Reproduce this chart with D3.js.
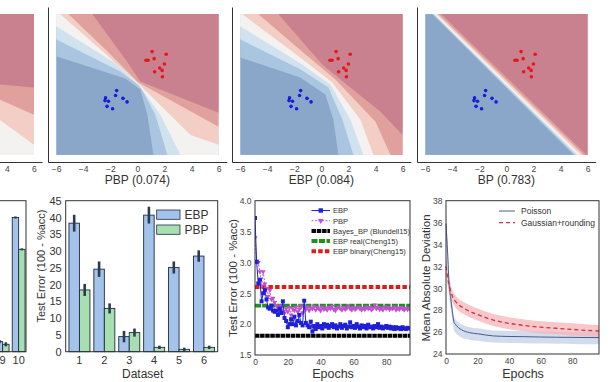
<!DOCTYPE html>
<html><head><meta charset="utf-8">
<script src="https://cdn.jsdelivr.net/npm/d3@7"></script>
<style>
body{margin:0;background:#fff}
svg{display:block}
text{font-family:"Liberation Sans",Arial,sans-serif}
</style>
</head><body>
<svg id="c" width="610" height="382"></svg>
<script>
// ================= DATA =================
// Top row: two-class toy data (same points in every panel)
const redPts  = [[1.09,2.8],[2.13,2.57],[0.64,2.06],[0.79,2.06],[1.24,2.2],[2.0,1.74],[1.65,1.4],[1.83,1.2],[1.28,1.09],[1.85,0.66]];
const bluePts = [[-1.53,-0.52],[-1.61,-0.94],[-2.35,-1.14],[-2.39,-1.37],[-2.13,-1.43],[-1.06,-1.18],[-0.76,-1.48],[-2.24,-1.86],[-1.83,-2.06]];
const topTicks = [-6,-4,-2,0,2,4,6];
const topLabels = ["", "PBP (0.074)", "EBP (0.084)", "BP (0.783)"];
// predictive-probability contour boundaries (level k -> k+1), in data coords
const boundsP0 = [
  [[-6,-3],[6,-14]],
  [[-6,-2],[6,-13]],
  [[-6,-1],[6,-12]],
  [[-6,5.05],[6,-5.14]],
  [[-6,3.54],[6,-2.57]],
  [[-6,0.98],[6,-0.26]]
];
const boundsPBP = [
  [[-6,2.4],[-0.89,0.51],[0.22,-0.43],[0.74,-2.57],[1.19,-6]],
  [[-6,3.86],[-1.26,1.11],[0.22,-0.17],[1.33,-2.57],[2.22,-6]],
  [[-6,4.97],[-1.63,1.8],[0.07,0],[1.7,-2.57],[3.19,-6]],
  [[-5.7,6],[-2.74,3],[0.07,0.09],[3.93,-4.29],[6,-5.14]],
  [[-5.1,6],[-2.37,3],[0.07,0.17],[6,-3.6]],
  [[-3.33,6],[-0.89,2.14],[0.22,0.26],[6,-2.4]]
];
const boundsEBP = [
  [[-6,2.31],[-1.56,0.6],[0.3,-0.86],[0.89,-3],[1.26,-6]],
  [[-6,3.86],[-1.56,1.29],[0.52,-0.26],[1.56,-3],[2.37,-6]],
  [[-6,4.97],[-1.56,1.8],[0.67,0],[2.15,-3],[3.11,-6]],
  [[-5.85,6],[-1.56,2.31],[0.81,0.17],[2.89,-3],[3.85,-6]],
  [[-4.67,6],[-1.19,2.57],[1.04,0.43],[4.0,-3.17],[5.11,-6]],
  [[-3.19,6],[0.07,1.71],[1.41,0.43],[4.37,-2.31],[6,-4.29]]
];
const boundsBP = [
  [[-5.48,6],[4.97,-6]],
  [[-5.41,6],[5.12,-6]],
  [[-5.34,6],[5.27,-6]],
  [[-5.19,6],[5.49,-6]],
  [[-5.04,6],[5.71,-6]],
  [[-4.82,6],[5.93,-6]]
];

// Bottom panel A (cut off, only datasets 9 and 10 visible)
const datasetsA = ["1","2","3","4","5","6","7","8","9","10"];
const shownA = ["9","10"];
const ebpA = [3.0, 40.0];
const ebpAErr = [0.5, 0.3];
const pbpA = [2.2, 30.5];
const pbpAErr = [0.6, 0.3];

// Bottom panel B
const datasetsB = ["1","2","3","4","5","6"];
const ebpB = [38.3, 24.6, 4.5, 40.7, 25.1, 28.5];
const ebpBErr = [2.5, 2.3, 1.7, 2.5, 1.8, 1.7];
const pbpB = [18.4, 12.9, 5.7, 1.3, 0.7, 1.3];
const pbpBErr = [1.8, 1.5, 1.2, 0.5, 0.5, 0.5];
const yTicksB = [0,5,10,15,20,25,30,35,40,45];

// Bottom panel C (test error vs epochs)
const ebpC = [3.72,3.01,2.66,2.72,2.37,2.50,2.55,2.40,2.27,2.25,
  2.30,2.22,2.20,2.22,2.15,2.25,2.18,2.37,2.10,2.05,
  1.95,2.00,2.08,2.00,2.12,1.98,2.05,2.15,2.02,1.98,
  2.38,2.02,1.98,1.95,2.04,1.88,1.97,1.92,2.00,1.95,
  1.97,1.93,2.00,1.96,1.99,1.94,1.97,2.00,1.95,1.98,
  1.93,1.96,2.00,1.94,1.97,1.99,1.93,1.96,2.03,1.95,
  1.97,1.94,2.00,1.96,1.93,1.98,1.95,1.97,1.93,1.99,
  1.95,1.96,1.93,1.97,1.95,2.00,1.94,1.96,1.93,1.95,
  1.97,1.94,1.96,1.93,1.95,1.92,1.95,1.93,1.94,1.92,
  1.95,1.93,1.92,1.94,1.93];
const pbpC = [3.40,3.02,3.00,2.85,2.62,2.85,2.65,2.58,2.45,2.55,
  2.40,2.42,2.35,2.30,2.28,2.22,2.30,2.20,2.18,2.25,
  2.20,2.27,2.15,2.25,2.22,2.28,2.20,2.24,2.30,2.18,2.27,
  2.24,2.28,2.22,2.26,2.25,2.29,2.23,2.27,
  2.25,2.22,2.28,2.24,2.26,2.23,2.27,2.25,
  2.29,2.24,2.22,2.26,2.28,2.25,2.23,2.27,
  2.24,2.26,2.30,2.25,2.23,2.27,2.24,2.26,
  2.28,2.25,2.23,2.26,2.24,2.28,2.25,2.27,
  2.23,2.26,2.31,2.25,2.27,2.24,2.26,2.23,
  2.28,2.25,2.27,2.24,2.26,2.25,2.28,2.23,
  2.26,2.24,2.27,2.25,2.23,2.26,2.24,2.25];
const bayesBP = 1.81;
const ebpReal = 2.30;
const ebpBinary = 2.60;
const legendC = ["EBP","PBP","Bayes_BP (Blundell15)","EBP real(Cheng15)","EBP binary(Cheng15)"];
const yTicksC = [1.5,2.0,2.5,3.0,3.5,4.0];
const xTicksC = [0,20,40,60,80];

// Bottom panel D (mean absolute deviation vs epochs)
const epochsD   = [0,1,2,3,4,5,6,8,10,15,20,30,40,50,60,70,80,90,97];
const poisson   = [35.9,33.3,30.3,29.1,27.9,26.95,26.7,26.4,26.2,25.95,25.85,25.65,25.6,25.58,25.55,25.53,25.52,25.5,25.5];
const poissonLo = [35.0,32.0,29.2,28.2,27.1,26.2,25.95,25.7,25.5,25.3,25.2,25.05,25.0,24.98,24.95,24.93,24.92,24.9,24.9];
const poissonHi = [36.0,34.3,31.3,30.0,28.7,27.5,27.2,26.9,26.7,26.45,26.35,26.15,26.1,26.08,26.05,26.03,26.02,26.0,26.0];
const gauss     = [32.0,31.0,30.3,29.7,29.3,29.0,28.8,28.5,28.3,27.9,27.6,27.1,26.8,26.6,26.45,26.35,26.25,26.15,26.1];
const gaussLo   = [31.1,30.3,29.7,29.1,28.75,28.45,28.25,27.95,27.75,27.35,27.05,26.55,26.25,26.05,25.9,25.8,25.7,25.6,25.55];
const gaussHi   = [32.9,31.7,30.9,30.3,29.85,29.55,29.35,29.05,28.85,28.45,28.15,27.65,27.35,27.15,27.0,26.9,26.8,26.7,26.65];
const legendD = ["Poisson","Gaussian+rounding"];
const yTicksD = [24,26,28,30,32,34,36,38];
const xTicksD = [0,20,40,60,80];

// ================= DRAWING =================
const W = 610;
const svg = d3.select("#c");
const defs = svg.append("defs");
const FONT = '"Liberation Sans",Arial,sans-serif';
const levelColors = ["#8aa7ca","#a9c5df","#d1e2ef","#f4f1f1","#f3cec4","#e0a19d","#c9808f"];

function regionPoly(b){
  const pts = b.slice();
  const first = pts[0], last = pts[pts.length-1];
  if (last[1] <= -5.99) pts.push([6.5,-6.5]);
  pts.push([6.5,6.5]);
  if (first[0] <= -5.99) pts.push([-6.5,6.5]);
  return pts;
}

const topLefts = [-136.7, 48, 232, 417];
const allBounds = [boundsP0, boundsPBP, boundsEBP, boundsBP];
topLefts.forEach((left,i)=>{
  const x = d3.scaleLinear().domain([-6.6,6.6]).range([left, left+178.7]);
  const y = d3.scaleLinear().domain([-6.6,6.6]).range([162,7]);
  const id = "clipT"+i;
  defs.append("clipPath").attr("id",id).append("rect")
    .attr("x",x(-6)).attr("y",y(6)).attr("width",x(6)-x(-6)).attr("height",y(-6)-y(6));
  const g = svg.append("g");
  const cg = g.append("g").attr("clip-path",`url(#${id})`);
  cg.append("rect").attr("x",x(-6)).attr("y",y(6)).attr("width",x(6)-x(-6)).attr("height",y(-6)-y(6))
    .attr("fill",levelColors[0]);
  const line = d3.line().x(d=>x(d[0])).y(d=>y(d[1]));
  allBounds[i].forEach((b,k)=>{
    cg.append("path").attr("d",line(regionPoly(b))+"Z").attr("fill",levelColors[k+1]);
  });
  cg.selectAll(".rp").data(redPts).join("circle")
    .attr("cx",d=>x(d[0])).attr("cy",d=>y(d[1])).attr("r",1.8).attr("fill","#e8141c");
  cg.selectAll(".bp").data(bluePts).join("circle")
    .attr("cx",d=>x(d[0])).attr("cy",d=>y(d[1])).attr("r",1.8).attr("fill","#1a1ad8");
  const visTicks = topTicks.filter(v=>x(v)>4 && x(v)<W-4);
  const ax = g.append("g").attr("transform","translate(0,162)")
    .call(d3.axisBottom(x).tickValues(visTicks).tickSize(0).tickSizeOuter(0).tickPadding(4));
  ax.select(".domain").attr("stroke","#333");
  ax.selectAll("text").attr("font-size",8.5).attr("fill","#444").attr("font-family",FONT);
  if (left >= 0){
    const ay = g.append("g").attr("transform",`translate(${left},0)`)
      .call(d3.axisLeft(y).tickValues([]).tickSizeOuter(0));
    ay.select(".domain").attr("stroke","#333");
  }
  if (topLabels[i]) g.append("text").attr("x",x(0)).attr("y",184).attr("text-anchor","middle")
    .attr("font-size",12).attr("fill","#333").text(topLabels[i]);
});

// ---- bar panels ----
const cEBP = "#a3c3ea", cPBP = "#a7dfb0", cEdge = "#1e2b45", cErr = "#2d3b4e";
function barPanel(left, right, cats, shown, e, eErr, p, pErr, ticksY, pi, po){
  const top = 200.7, bottom = 351.7;
  const x = d3.scaleBand().domain(cats).range([left,right]).paddingInner(pi).paddingOuter(po);
  const y = d3.scaleLinear().domain([0,45]).range([bottom, top]);
  const g = svg.append("g");
  const bw = x.bandwidth()/2;
  shown.forEach((c,i)=>{
    g.append("rect").attr("x",x(c)).attr("y",y(e[i])).attr("width",bw).attr("height",y(0)-y(e[i]))
      .attr("fill",cEBP).attr("stroke",cEdge).attr("stroke-width",0.9);
    g.append("rect").attr("x",x(c)+bw).attr("y",y(p[i])).attr("width",bw).attr("height",y(0)-y(p[i]))
      .attr("fill",cPBP).attr("stroke",cEdge).attr("stroke-width",0.9);
    g.append("line").attr("x1",x(c)+bw/2).attr("x2",x(c)+bw/2)
      .attr("y1",y(e[i]-eErr[i])).attr("y2",y(e[i]+eErr[i])).attr("stroke",cErr).attr("stroke-width",2.6);
    g.append("line").attr("x1",x(c)+bw*1.5).attr("x2",x(c)+bw*1.5)
      .attr("y1",y(p[i]-pErr[i])).attr("y2",y(p[i]+pErr[i])).attr("stroke",cErr).attr("stroke-width",2.6);
  });
  g.append("rect").attr("x",left).attr("y",top).attr("width",right-left).attr("height",bottom-top)
    .attr("fill","none").attr("stroke","#333").attr("stroke-width",1);
  const ax = g.append("g").attr("transform",`translate(0,${bottom})`)
    .call(d3.axisBottom(x).tickValues(shown).tickSize(0).tickPadding(4.5));
  ax.select(".domain").remove();
  ax.selectAll("text").attr("font-size",11).attr("fill","#333").attr("font-family",FONT);
  if (ticksY){
    const ay = g.append("g").attr("transform",`translate(${left},0)`)
      .call(d3.axisLeft(y).tickValues(ticksY).tickSize(0).tickPadding(4));
    ay.select(".domain").remove();
    ay.selectAll("text").attr("font-size",11).attr("fill","#333").attr("font-family",FONT);
  }
  return {x,y,g};
}
barPanel(-132.7, 26, datasetsA, shownA, ebpA, ebpAErr, pbpA, pbpAErr, null, 0.2, 0.06);
const B = barPanel(65.7, 217.7, datasetsB, datasetsB, ebpB, ebpBErr, pbpB, pbpBErr, yTicksB, 0.157, 0.13);
B.g.append("text").attr("transform","translate(45,266) rotate(-90)").attr("text-anchor","middle")
  .attr("font-size",11).attr("fill","#333").text("Test Error (100 - %acc)");
B.g.append("text").attr("x",142.7).attr("y",378).attr("text-anchor","middle")
  .attr("font-size",12).attr("fill","#333").text("Dataset");
[["EBP",cEBP,210],["PBP",cPBP,225]].forEach(d=>{
  B.g.append("rect").attr("x",156.7).attr("y",d[2]).attr("width",23.3).attr("height",9.3)
    .attr("fill",d[1]).attr("stroke",cEdge).attr("stroke-width",0.8);
  B.g.append("text").attr("x",184.5).attr("y",d[2]+9).attr("font-size",12).attr("fill","#333").text(d[0]);
});

// ---- panel C ----
(function(){
  const left=255, right=410, top=200.7, bottom=355;
  const x = d3.scaleLinear().domain([0,94.5]).range([left,right]);
  const y = d3.scaleLinear().domain([1.5,4.0]).range([bottom,top]);
  const g = svg.append("g");
  defs.append("clipPath").attr("id","clipC").append("rect").attr("x",left).attr("y",top).attr("width",right-left).attr("height",bottom-top);
  const cg = g.append("g").attr("clip-path","url(#clipC)");
  const n = ebpC.length;
  const hl = (v,col,w,dash)=>cg.append("line").attr("x1",x(0)).attr("x2",x(n-1)+2).attr("y1",y(v)).attr("y2",y(v))
      .attr("stroke",col).attr("stroke-width",w).attr("stroke-dasharray",dash);
  hl(bayesBP,"#000",4,"4.5,0.6");
  hl(ebpReal,"#1f8f1f",3.6,"6,1.2");
  hl(ebpBinary,"#dd1c1c",4,"4.5,2.2");
  const line = d3.line().x((d,i)=>x(i)).y(d=>y(d));
  cg.append("path").attr("d",line(pbpC)).attr("fill","none").attr("stroke","#bb44cc").attr("stroke-width",0.9).attr("stroke-dasharray","2,1.5");
  const tri = d3.symbol().type(d3.symbolTriangle).size(11);
  cg.selectAll(".tri").data(pbpC).join("path").attr("d",tri)
    .attr("transform",(d,i)=>`translate(${x(i)},${y(d)}) rotate(180)`).attr("fill","#c050d0");
  cg.append("path").attr("d",line(ebpC)).attr("fill","none").attr("stroke","#2020d8").attr("stroke-width",1);
  cg.selectAll(".sq").data(ebpC).join("rect").attr("x",(d,i)=>x(i)-2).attr("y",d=>y(d)-2)
    .attr("width",4).attr("height",4).attr("fill","#1f1fd6");
  g.append("rect").attr("x",left).attr("y",top).attr("width",right-left).attr("height",bottom-top)
    .attr("fill","none").attr("stroke","#333").attr("stroke-width",1);
  const ax = g.append("g").attr("transform",`translate(0,${bottom})`)
    .call(d3.axisBottom(x).tickValues(xTicksC).tickSize(0).tickPadding(3.5));
  ax.select(".domain").remove();
  ax.selectAll("text").attr("font-size",8.5).attr("fill","#444").attr("font-family",FONT);
  const ay = g.append("g").attr("transform",`translate(${left},0)`)
    .call(d3.axisLeft(y).tickValues(yTicksC).tickFormat(d3.format(".1f")).tickSize(0).tickPadding(3.5));
  ay.select(".domain").remove();
  ay.selectAll("text").attr("font-size",8.5).attr("fill","#444").attr("font-family",FONT);
  g.append("text").attr("transform","translate(237,278) rotate(-90)").attr("text-anchor","middle")
    .attr("font-size",11.5).attr("fill","#333").text("Test Error (100 - %acc)");
  g.append("text").attr("x",333).attr("y",378).attr("text-anchor","middle")
    .attr("font-size",12.5).attr("fill","#333").text("Epochs");
  // legend
  const lx0=311.5, lx1=330, ly0=210.5, dy=10.2;
  legendC.forEach((t,i)=>{
    const yy = ly0+i*dy;
    if(i===0){
      g.append("line").attr("x1",lx0).attr("x2",lx1).attr("y1",yy).attr("y2",yy).attr("stroke","#2020d8").attr("stroke-width",1);
      g.append("rect").attr("x",(lx0+lx1)/2-2.2).attr("y",yy-2.2).attr("width",4.4).attr("height",4.4).attr("fill","#1f1fd6");
    } else if(i===1){
      g.append("line").attr("x1",lx0).attr("x2",lx1).attr("y1",yy).attr("y2",yy).attr("stroke","#bb44cc").attr("stroke-width",0.9).attr("stroke-dasharray","2,1.5");
      g.append("path").attr("d",d3.symbol().type(d3.symbolTriangle).size(14)).attr("transform",`translate(${(lx0+lx1)/2},${yy}) rotate(180)`).attr("fill","#c050d0");
    } else {
      const col = ["#000","#1f8f1f","#dd1c1c"][i-2];
      const dash = ["4.5,0.8","6,1.5","4.5,2.2"][i-2];
      g.append("line").attr("x1",lx0).attr("x2",lx1).attr("y1",yy).attr("y2",yy).attr("stroke",col).attr("stroke-width",4).attr("stroke-dasharray",dash);
    }
    g.append("text").attr("x",333).attr("y",yy+2.8).attr("font-size",7.5).attr("fill","#333").text(t);
  });
})();

// ---- panel D ----
(function(){
  const left=446, right=599, top=200.7, bottom=354;
  const x = d3.scaleLinear().domain([0,97]).range([left,right]);
  const y = d3.scaleLinear().domain([24,38]).range([bottom,top]);
  const g = svg.append("g");
  const area = (lo,hi)=>d3.area().x((d,i)=>x(epochsD[i])).y0((d,i)=>y(lo[i])).y1((d,i)=>y(hi[i])).curve(d3.curveMonotoneX)(epochsD);
  g.append("path").attr("d",area(poissonLo,poissonHi)).attr("fill","#c9d6ec").attr("opacity",0.85);
  g.append("path").attr("d",area(gaussLo,gaussHi)).attr("fill","#f4b4b8").attr("opacity",0.75);
  const line = d3.line().x((d,i)=>x(epochsD[i])).y(d=>y(d)).curve(d3.curveMonotoneX);
  g.append("path").attr("d",line(poisson)).attr("fill","none").attr("stroke","#4a5c8a").attr("stroke-width",1);
  g.append("path").attr("d",line(gauss)).attr("fill","none").attr("stroke","#cc3344").attr("stroke-width",1.3).attr("stroke-dasharray","4,3");
  g.append("rect").attr("x",left).attr("y",top).attr("width",right-left).attr("height",bottom-top)
    .attr("fill","none").attr("stroke","#333").attr("stroke-width",1);
  const ax = g.append("g").attr("transform",`translate(0,${bottom})`)
    .call(d3.axisBottom(x).tickValues(xTicksD).tickSize(0).tickPadding(3.5));
  ax.select(".domain").remove();
  ax.selectAll("text").attr("font-size",8.5).attr("fill","#444").attr("font-family",FONT);
  const ay = g.append("g").attr("transform",`translate(${left},0)`)
    .call(d3.axisLeft(y).tickValues(yTicksD).tickSize(0).tickPadding(3.5));
  ay.select(".domain").remove();
  ay.selectAll("text").attr("font-size",8.5).attr("fill","#444").attr("font-family",FONT);
  g.append("text").attr("transform","translate(430,278) rotate(-90)").attr("text-anchor","middle")
    .attr("font-size",11.5).attr("fill","#333").text("Mean Absolute Deviation");
  g.append("text").attr("x",523).attr("y",378).attr("text-anchor","middle")
    .attr("font-size",12.5).attr("fill","#333").text("Epochs");
  g.append("line").attr("x1",499).attr("x2",515).attr("y1",211).attr("y2",211).attr("stroke","#4a5c8a").attr("stroke-width",1);
  g.append("line").attr("x1",499).attr("x2",515).attr("y1",222.7).attr("y2",222.7).attr("stroke","#cc3344").attr("stroke-width",1.3).attr("stroke-dasharray","4,3");
  legendD.forEach((t,i)=>g.append("text").attr("x",521).attr("y",211+i*11.7+3).attr("font-size",8.5).attr("fill","#333").text(t));
})();
</script>
</body></html>
